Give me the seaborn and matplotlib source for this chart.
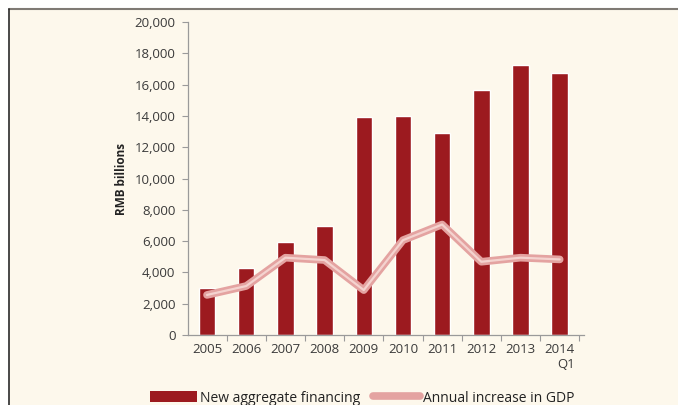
import matplotlib
matplotlib.use("Agg")
import matplotlib.pyplot as plt
from matplotlib.patches import Rectangle, Patch
from matplotlib.lines import Line2D
import seaborn as sns
import pandas as pd
import numpy as np

years = ["2005", "2006", "2007", "2008", "2009", "2010", "2011", "2012", "2013", "2014\nQ1"]
financing = [2980, 4260, 5920, 6960, 13930, 14010, 12880, 15680, 17260, 16740]
gdp_increase = [2560, 3130, 4940, 4790, 2870, 6060, 7060, 4680, 4940, 4830]
yticks = [0, 2000, 4000, 6000, 8000, 10000, 12000, 14000, 16000, 18000, 20000]

sns.set_style("ticks")
plt.rcParams['font.family'] = ['Open Sans', 'DejaVu Sans']

W, H = 678, 405
fig = plt.figure(figsize=(W / 100, H / 100), dpi=100, facecolor="white")

# cream panel with frame
bg = Rectangle((9 / W, 0), 1 - 9 / W, 1 - 9 / H, transform=fig.transFigure,
               facecolor="#fdf8ec", edgecolor="none", zorder=-10)
fig.patches.append(bg)
fig.add_artist(Line2D([9 / W, 1], [1 - 9 / H, 1 - 9 / H], transform=fig.transFigure,
                      color="#7f7a74", lw=1.5, zorder=-5))
fig.add_artist(Line2D([9 / W, 9 / W], [0, 1 - 9 / H], transform=fig.transFigure,
                      color="#2a2a2a", lw=1.2, zorder=-5))

ax = fig.add_axes([188 / W, 1 - 335 / H, (584 - 188) / W, (335 - 22) / H])
ax.set_facecolor("none")
ax.patch.set_alpha(0)

df = pd.DataFrame({"year": years, "financing": financing, "gdp": gdp_increase})
bar_color = "#9c1a1f"
sns.barplot(data=df, x="year", y="financing", color=bar_color, width=0.42,
            saturation=1, ax=ax, zorder=2)
x = np.arange(len(years))
sns.lineplot(x=x, y=gdp_increase, ax=ax, color="#e4a3a1", lw=5.5, zorder=3,
             solid_joinstyle="round")
sns.lineplot(x=x, y=gdp_increase, ax=ax, color="#f4d3cf", lw=1.6, zorder=4,
             solid_joinstyle="round")

text_color = "#3a3a3a"
ax.set_ylim(0, 20000)
ax.set_xlim(-0.485, 9.62)
ax.set_yticks(yticks)
ax.set_yticklabels([f"{v:,}" for v in yticks])
ax.set_xticks(x)
ax.set_xticklabels(years, multialignment="right")
ax.set_xticks(np.arange(0.5, 9.6, 1), minor=True)
ax.tick_params(axis="x", which="major", length=0, pad=6)
ax.tick_params(axis="x", which="minor", length=4, color="#9a9a9a", width=0.8)
ax.tick_params(axis="y", length=4, color="#9a9a9a", width=0.8, pad=5)
ax.tick_params(labelsize=9.5, labelcolor=text_color)
ax.set_xlabel("")
ax.set_ylabel("RMB billions", fontsize=8.5, fontweight="bold", color="#222222", labelpad=5)
for s in ["top", "right"]:
    ax.spines[s].set_visible(False)
for s in ["left", "bottom"]:
    ax.spines[s].set_color("#9a9a9a")
    ax.spines[s].set_linewidth(0.9)

handles = [Patch(facecolor=bar_color, edgecolor="none"),
           Line2D([], [], color="#e4a3a1", lw=5.5)]
leg = fig.legend(handles, ["New aggregate financing", "Annual increase in GDP"],
                 loc="center", bbox_to_anchor=(362 / W, 1 - 398 / H), ncol=2,
                 frameon=False, fontsize=10, handlelength=3.4, handleheight=0.9,
                 handletextpad=0.2, columnspacing=0.9, borderpad=0.2)
for t in leg.get_texts():
    t.set_color("#222222")

fig.savefig("out.png", dpi=100, facecolor="white")
